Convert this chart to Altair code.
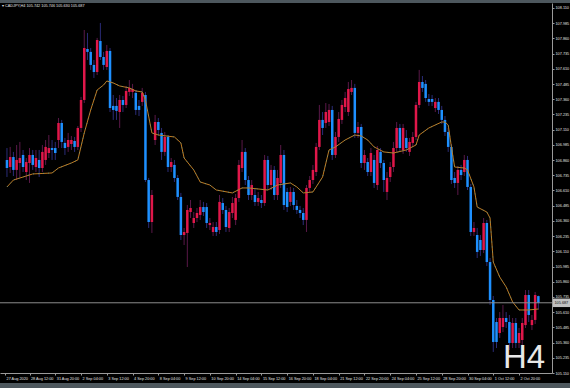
import altair as alt
import pandas as pd

# ---------------- data ----------------
bar_index = list(range(166))

opens = [
    106.861, 106.803, 106.885, 106.779, 106.836, 106.902, 106.762, 106.836, 106.902, 106.803,
    106.861, 106.795, 106.861, 106.918, 106.959, 106.959, 107.025, 107.165, 107.001, 106.968,
    106.992, 107.017, 106.968, 107.124, 107.354, 107.773, 107.749, 107.642, 107.584, 107.839,
    107.707, 107.625, 107.757, 107.305, 107.305, 107.255, 107.354, 107.313, 107.420, 107.420,
    107.412, 107.305, 107.338, 107.395, 106.696, 106.351, 107.025, 107.173, 107.083, 106.927,
    107.050, 106.803, 106.820, 106.713, 106.557, 106.244, 106.261, 106.433, 106.343, 106.384,
    106.409, 106.474, 106.474, 106.326, 106.269, 106.310, 106.285, 106.507, 106.450, 106.302,
    106.425, 106.368, 106.548, 106.795, 106.927, 106.696, 106.573, 106.573, 106.516, 106.532,
    106.507, 106.861, 106.655, 106.779, 106.573, 106.672, 106.902, 106.598, 106.516, 106.598,
    106.483, 106.450, 106.425, 106.368, 106.631, 106.696, 106.762, 106.968, 107.190, 107.165,
    107.173, 107.272, 106.902, 107.050, 107.190, 107.296, 107.255, 107.420, 107.453, 107.083,
    107.132, 106.836, 106.844, 106.762, 106.861, 106.655, 106.927, 106.836, 106.598, 106.721,
    106.803, 106.959, 107.124, 106.943, 107.042, 106.927, 107.001, 107.050, 107.313, 107.502,
    107.486, 107.362, 107.362, 107.288, 107.338, 107.272, 107.190, 107.091, 106.968, 106.713,
    106.672, 106.779, 106.762, 106.861, 106.639, 106.269, 106.244, 106.203, 106.121, 106.343,
    106.022, 105.710, 105.529, 105.439, 105.488, 105.562, 105.529, 105.357, 105.521, 105.357,
    105.381, 105.504, 105.751, 105.504, 105.546, 105.742]

closes = [
    106.795, 106.885, 106.779, 106.861, 106.877, 106.803, 106.844, 106.902, 106.820, 106.877,
    106.795, 106.927, 106.968, 106.959, 106.943, 106.918, 107.165, 107.009, 106.959, 107.025,
    107.025, 106.968, 107.124, 107.354, 107.781, 107.749, 107.642, 107.584, 107.847, 107.707,
    107.642, 107.757, 107.288, 107.272, 107.264, 107.354, 107.313, 107.428, 107.453, 107.444,
    107.272, 107.272, 107.412, 106.696, 106.351, 106.573, 107.173, 107.107, 106.927, 107.050,
    106.803, 106.844, 106.713, 106.557, 106.244, 106.269, 106.450, 106.466, 106.384, 106.425,
    106.474, 106.433, 106.343, 106.343, 106.310, 106.269, 106.516, 106.450, 106.310, 106.433,
    106.507, 106.548, 106.820, 106.927, 106.696, 106.573, 106.655, 106.516, 106.548, 106.507,
    106.861, 106.655, 106.779, 106.573, 106.713, 106.902, 106.491, 106.474, 106.598, 106.491,
    106.450, 106.425, 106.368, 106.631, 106.696, 106.779, 106.968, 107.190, 107.124, 107.255,
    107.272, 106.902, 107.050, 107.198, 107.313, 107.370, 107.444, 107.453, 107.083, 107.132,
    106.836, 106.902, 106.762, 106.918, 106.672, 106.943, 106.836, 106.696, 106.713, 106.803,
    106.959, 107.124, 106.959, 107.124, 106.959, 107.009, 107.050, 107.313, 107.502, 107.453,
    107.370, 107.338, 107.338, 107.338, 107.272, 107.190, 107.091, 106.968, 106.696, 106.672,
    106.779, 106.737, 106.861, 106.639, 106.269, 106.302, 106.105, 106.121, 106.343, 106.022,
    105.710, 105.365, 105.365, 105.562, 105.562, 105.529, 105.357, 105.521, 105.357, 105.439,
    105.521, 105.751, 105.587, 105.546, 105.751, 105.687]

highs = [
    106.959, 106.968, 106.927, 106.984, 107.009, 106.943, 106.877, 106.959, 106.943, 106.943,
    106.943, 106.984, 107.025, 107.066, 107.025, 107.009, 107.206, 107.190, 107.042, 107.083,
    107.058, 107.050, 107.140, 107.379, 107.929, 107.905, 107.781, 107.683, 107.864, 107.987,
    107.749, 107.806, 107.781, 107.395, 107.370, 107.395, 107.387, 107.469, 107.518, 107.486,
    107.436, 107.354, 107.453, 107.420, 106.713, 106.614, 107.231, 107.206, 107.124, 107.091,
    107.066, 106.877, 106.861, 106.737, 106.590, 106.302, 106.491, 106.532, 106.433, 106.466,
    106.532, 106.516, 106.507, 106.384, 106.351, 106.351, 106.573, 106.548, 106.483, 106.466,
    106.557, 106.581, 106.861, 107.025, 106.959, 106.729, 106.696, 106.631, 106.598, 106.573,
    106.902, 106.894, 106.820, 106.811, 106.779, 106.984, 106.943, 106.631, 106.639, 106.631,
    106.532, 106.483, 106.466, 106.655, 106.729, 106.820, 107.001, 107.313, 107.255, 107.329,
    107.321, 107.305, 107.091, 107.255, 107.354, 107.420, 107.502, 107.518, 107.486, 107.173,
    107.157, 106.943, 106.877, 106.959, 106.902, 106.976, 106.959, 106.861, 106.762, 106.844,
    107.009, 107.173, 107.157, 107.157, 107.107, 107.042, 107.091, 107.338, 107.601, 107.551,
    107.518, 107.403, 107.395, 107.370, 107.370, 107.305, 107.222, 107.124, 106.992, 106.762,
    106.811, 106.820, 106.902, 106.894, 106.664, 106.351, 106.302, 106.244, 106.384, 106.368,
    106.055, 105.743, 105.562, 105.611, 105.669, 105.611, 105.587, 105.562, 105.562, 105.480,
    105.562, 105.792, 105.792, 105.587, 105.776, 105.746]

lows = [
    106.721, 106.754, 106.729, 106.696, 106.721, 106.762, 106.696, 106.672, 106.779, 106.762,
    106.721, 106.762, 106.820, 106.877, 106.861, 106.861, 106.959, 106.959, 106.902, 106.927,
    106.943, 106.927, 106.943, 107.091, 107.329, 107.683, 107.601, 107.535, 107.559, 107.683,
    107.601, 107.601, 107.255, 107.190, 107.190, 107.124, 107.255, 107.288, 107.387, 107.370,
    107.231, 107.222, 107.305, 106.680, 106.302, 106.261, 106.984, 107.066, 106.861, 106.894,
    106.762, 106.762, 106.680, 106.532, 106.203, 106.162, 105.981, 106.384, 106.302, 106.351,
    106.368, 106.400, 106.302, 106.285, 106.236, 106.236, 106.253, 106.417, 106.269, 106.269,
    106.384, 106.326, 106.516, 106.762, 106.655, 106.532, 106.532, 106.483, 106.483, 106.466,
    106.483, 106.614, 106.614, 106.532, 106.532, 106.631, 106.450, 106.433, 106.483, 106.450,
    106.417, 106.384, 106.326, 106.269, 106.598, 106.664, 106.729, 106.943, 107.066, 107.124,
    107.140, 106.861, 106.877, 107.009, 107.157, 107.255, 107.222, 107.395, 107.042, 107.042,
    106.795, 106.779, 106.729, 106.729, 106.631, 106.614, 106.795, 106.598, 106.532, 106.680,
    106.762, 106.927, 106.927, 106.911, 106.927, 106.894, 106.968, 107.025, 107.288, 107.420,
    107.338, 107.305, 107.305, 107.255, 107.239, 107.157, 107.058, 106.927, 106.664, 106.631,
    106.573, 106.696, 106.729, 106.614, 106.236, 106.236, 106.055, 106.072, 106.096, 105.989,
    105.669, 105.283, 105.315, 105.398, 105.447, 105.480, 105.299, 105.315, 105.315, 105.315,
    105.340, 105.480, 105.529, 105.463, 105.513, 105.630]

# moving-average line, read at selected bars
ma_bars = [0, 2, 5, 8, 14, 16, 20, 22, 24, 26, 28, 30, 31, 33, 35, 38, 40, 42, 43, 45,
           47, 52, 54, 55, 58, 60, 63, 65, 70, 73, 75, 81, 84, 88, 90, 92, 95, 98, 100, 102,
           105, 108, 110, 112, 114, 117, 120, 124, 127, 128, 131, 135, 136, 137, 138, 139, 142, 143, 145, 146,
           149, 150, 151, 153, 155, 157, 159, 162, 165]
ma_values = [106.639, 106.696, 106.721, 106.746, 106.754, 106.795, 106.836, 106.861, 107.083, 107.272,
             107.436, 107.477, 107.510, 107.494, 107.469, 107.453, 107.428, 107.420, 107.354, 107.083,
             107.066, 107.050, 107.001, 106.877, 106.779, 106.680, 106.655, 106.614, 106.590, 106.631,
             106.631, 106.614, 106.655, 106.672, 106.639, 106.590, 106.598, 106.721, 106.943, 106.968,
             107.025, 107.066, 107.058, 107.025, 106.968, 106.927, 106.918, 106.943, 106.984, 107.066,
             107.124, 107.173, 107.173, 107.148, 106.968, 106.803, 106.795, 106.779, 106.639, 106.474,
             106.433, 106.384, 106.022, 105.899, 105.817, 105.694, 105.628, 105.628, 105.636]

price_ticks = [108.110, 107.985, 107.860, 107.735, 107.610, 107.485, 107.360, 107.235, 107.110,
               106.985, 106.860, 106.735, 106.610, 106.485, 106.360, 106.235, 106.110, 105.985,
               105.860, 105.735, 105.610, 105.485, 105.360, 105.235, 105.110]

time_labels = ['27 Aug 2020', '28 Aug 12:00', '31 Aug 20:00', '2 Sep 04:00', '3 Sep 12:00',
               '4 Sep 20:00', '8 Sep 04:00', '9 Sep 12:00', '10 Sep 20:00', '14 Sep 04:00',
               '15 Sep 12:00', '16 Sep 20:00', '18 Sep 04:00', '21 Sep 12:00', '22 Sep 20:00',
               '24 Sep 04:00', '25 Sep 12:00', '28 Sep 20:00', '30 Sep 04:00', '1 Oct 12:00',
               '2 Oct 20:00']
time_tick_bars = [-0.6] + [8 * k - 1 for k in range(1, 21)]

last_price = 105.687
header = "\u25be CADJPY,H4 105.742 105.746 105.630 105.687"
big_label = "H4"

# ---------------- chart ----------------
df = pd.DataFrame({"bar": bar_index, "open": opens, "high": highs, "low": lows, "close": closes})
ma_df = pd.DataFrame({"bar": ma_bars, "ma": ma_values})
last_df = pd.DataFrame({"bar": [167.0], "price": [last_price],
                        "top": [last_price + 0.035], "bottom": [last_price - 0.035],
                        "label": [f"{last_price:.3f}"]})

FONT = "Liberation Sans"
FS = 3.8
AX = "#9a9a9a"
labels_js = "[" + ",".join("'%s'" % s for s in time_labels) + "]"

x_scale = alt.Scale(domain=[-0.61, 167.68], nice=False, zero=False)
y_scale = alt.Scale(domain=[105.110, 108.151], nice=False, zero=False)

x_axis = alt.Axis(values=time_tick_bars, labelExpr=f"{labels_js}[round((datum.value+1)/8)]",
                  title=None, grid=False, labelAlign="left", labelBaseline="top", labelOffset=1,
                  labelPadding=1.5, tickSize=2, tickColor=AX, domainColor=AX, labelColor="#e0e0e0",
                  labelFontSize=FS, labelFont=FONT, labelOverlap=False, labelFlush=False)
y_axis = alt.Axis(values=price_ticks, format=".3f", orient="right", title=None, grid=False,
                  tickSize=2, tickColor=AX, domainColor=AX, labelColor="#e0e0e0",
                  labelFontSize=FS, labelFont=FONT, labelPadding=1, labelOverlap=False,
                  labelFlush=False)


def X(field):
    return alt.X(field, scale=x_scale, axis=x_axis)


def Y(field):
    return alt.Y(field, scale=y_scale, axis=y_axis)


is_up = alt.datum.close >= alt.datum.open
base = alt.Chart(df)
wicks = base.mark_rule(strokeWidth=1).encode(
    x=X("bar:Q"), y=Y("low:Q"), y2="high:Q",
    color=alt.condition(is_up, alt.value("#5a1848"), alt.value("#2a2c78")),
)
bodies = base.mark_bar(size=2.5).encode(
    x=X("bar:Q"), y=Y("open:Q"), y2="close:Q",
    color=alt.condition(is_up, alt.value("#e0174a"), alt.value("#1e90ff")),
)
ma_line = alt.Chart(ma_df).mark_line(color="#c07a20", strokeWidth=1).encode(
    x=X("bar:Q"), y=Y("ma:Q"))
ma_dots = alt.Chart(ma_df).mark_line(color="#3fa6b0", strokeWidth=1, strokeDash=[1, 4],
                                     opacity=0.6).encode(x=X("bar:Q"), y=Y("ma:Q"))

last = alt.Chart(last_df)
price_line = last.mark_rule(color="#8c8c8c", strokeWidth=1).encode(y=Y("price:Q"))
price_box = last.mark_rect(color="#c0c0c0").encode(
    x=alt.value(553), x2=alt.value(570), y=Y("top:Q"), y2="bottom:Q")
price_text = last.mark_text(align="left", baseline="middle", fontSize=FS, font=FONT,
                            color="#111111").encode(
    x=alt.value(554.5), y=Y("price:Q"), text="label:N")

one = alt.Data(values=[{}])
top_strip = alt.Chart(one).mark_rect(color="#4d575d").encode(
    x=alt.value(0), x2=alt.value(570), y=alt.value(-3), y2=alt.value(0))
bottom_strip = alt.Chart(one).mark_rect(color="#4d575d").encode(
    x=alt.value(0), x2=alt.value(570), y=alt.value(380), y2=alt.value(385))

header_text = alt.Chart(one).mark_text(align="left", baseline="middle", fontSize=FS,
                                       font=FONT, color="#e0e0e0").encode(
    x=alt.value(2), y=alt.value(2.5), text=alt.value(header))
h4_text = alt.Chart(one).mark_text(align="left", baseline="alphabetic", fontSize=33,
                                   font=FONT, color="#e8e8e8").encode(
    x=alt.value(503), y=alt.value(365), text=alt.value(big_label))

chart = alt.layer(
    wicks, bodies, ma_line, ma_dots, price_line, price_box, price_text,
    top_strip, bottom_strip, header_text, h4_text
).properties(
    width=552, height=370,
    autosize=alt.AutoSizeParams(type="none"),
    padding={"left": 0, "top": 3, "right": 18, "bottom": 15},
    background="#000000",
).configure_view(strokeWidth=0, fill="#000000")

chart.save("out.html", embed_options={"renderer": "svg", "actions": False})
